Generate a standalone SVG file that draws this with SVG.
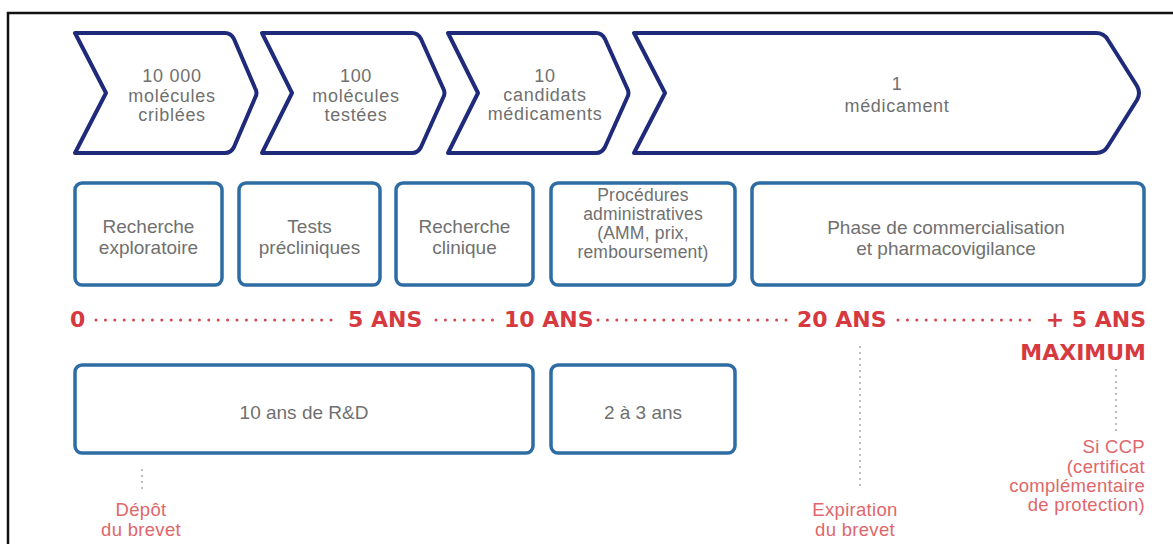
<svg xmlns="http://www.w3.org/2000/svg" width="1173" height="544" viewBox="0 0 1173 544">
  <defs>
    <style>
      .chev { fill: #ffffff; stroke: #1f2b7a; stroke-width: 4; stroke-linejoin: round; }
      .box { fill: #ffffff; stroke: #2e6da4; stroke-width: 3.5; }
      .lbl { font-family: "Liberation Sans", Arial, sans-serif; font-size: 19px; fill: #707070; text-anchor: middle; }
      .chevlbl { font-size: 18px; letter-spacing: 0.7px; }
      .small { font-size: 17.5px; letter-spacing: 0.2px; }
      .tl { font-family: "DejaVu Sans", "Liberation Sans", sans-serif; font-weight: bold; font-size: 22px; fill: #d63a40; }
      .dots { stroke: #d0484e; stroke-width: 3; stroke-linecap: round; stroke-dasharray: 0 9.4; fill: none; }
      .vdots { stroke: #a8a8a8; stroke-width: 2; stroke-linecap: round; stroke-dasharray: 0 6; fill: none; }
      .note { font-family: "Liberation Sans", Arial, sans-serif; font-size: 18.5px; letter-spacing: 0.3px; fill: #e0666a; }
    </style>
  </defs>

  <rect x="0" y="0" width="1173" height="544" fill="#ffffff"/>
  <!-- outer frame (open to the right and bottom) -->
  <rect x="8" y="13" width="1180" height="560" fill="none" stroke="#111111" stroke-width="2.5"/>

  <!-- funnel of candidates -->
  <g id="chevron-10000">
    <path class="chev" d="M 75 33 H 225 Q 231 33 234 39 L 255 88 Q 258 93 255 98 L 234 147 Q 231 153 225 153 H 75 L 106 93 Z"/>
    <text class="lbl chevlbl"><tspan x="172" y="82">10 000</tspan><tspan x="172" y="102">molécules</tspan><tspan x="172" y="121">criblées</tspan></text>
  </g>
  <g id="chevron-100">
    <path class="chev" d="M 262 33 H 412 Q 418 33 421 39 L 443 88 Q 446 93 443 98 L 421 147 Q 418 153 412 153 H 262 L 292 93 Z"/>
    <text class="lbl chevlbl"><tspan x="356" y="82">100</tspan><tspan x="356" y="102">molécules</tspan><tspan x="356" y="121">testées</tspan></text>
  </g>
  <g id="chevron-10">
    <path class="chev" d="M 448 33 H 596 Q 602 33 605 39 L 627 88 Q 630 93 627 98 L 605 147 Q 602 153 596 153 H 448 L 478 93 Z"/>
    <text class="lbl chevlbl"><tspan x="545" y="82">10</tspan><tspan x="545" y="101">candidats</tspan><tspan x="545" y="120">médicaments</tspan></text>
  </g>
  <g id="chevron-1">
    <path class="chev" d="M 634 33 H 1096 Q 1104 33 1108 40 L 1137 86 Q 1141 93 1137 100 L 1108 146 Q 1104 153 1096 153 H 634 L 665 93 Z"/>
    <text class="lbl chevlbl"><tspan x="897" y="90">1</tspan><tspan x="897" y="112">médicament</tspan></text>
  </g>

  <!-- phases -->
  <g id="phase-exploratoire">
    <rect class="box" x="75" y="183" width="147" height="102" rx="7"/>
    <text class="lbl"><tspan x="148.5" y="233">Recherche</tspan><tspan x="148.5" y="254">exploratoire</tspan></text>
  </g>
  <g id="phase-precliniques">
    <rect class="box" x="239" y="183" width="141" height="102" rx="7"/>
    <text class="lbl"><tspan x="309.5" y="233">Tests</tspan><tspan x="309.5" y="254">précliniques</tspan></text>
  </g>
  <g id="phase-clinique">
    <rect class="box" x="396" y="183" width="137" height="102" rx="7"/>
    <text class="lbl"><tspan x="464.5" y="233">Recherche</tspan><tspan x="464.5" y="254">clinique</tspan></text>
  </g>
  <g id="phase-administratives">
    <rect class="box" x="551" y="183" width="184" height="102" rx="7"/>
    <text class="lbl small"><tspan x="643" y="201">Procédures</tspan><tspan x="643" y="220">administratives</tspan><tspan x="643" y="239">(AMM, prix,</tspan><tspan x="643" y="258">remboursement)</tspan></text>
  </g>
  <g id="phase-commercialisation">
    <rect class="box" x="752" y="183" width="392" height="102" rx="7"/>
    <text class="lbl"><tspan x="946" y="234">Phase de commercialisation</tspan><tspan x="946" y="255">et pharmacovigilance</tspan></text>
  </g>

  <!-- timeline -->
  <g id="timeline">
    <text class="tl" x="70" y="327">0</text>
    <text class="tl" x="348" y="327">5 ANS</text>
    <text class="tl" x="504" y="327">10 ANS</text>
    <text class="tl" x="797" y="327">20 ANS</text>
    <text class="tl" x="1146" y="327" text-anchor="end">+ 5 ANS</text>
    <text class="tl" x="1146" y="360" text-anchor="end">MAXIMUM</text>
  </g>

  <!-- durations -->
  <g id="duree-rd">
    <rect class="box" x="75" y="365" width="458" height="88" rx="7"/>
    <text class="lbl" x="304" y="419">10 ans de R&amp;D</text>
  </g>
  <g id="duree-admin">
    <rect class="box" x="551" y="365" width="184" height="88" rx="7"/>
    <text class="lbl" x="643" y="419">2 à 3 ans</text>
  </g>

  <!-- patent milestones -->
  <g id="depot-brevet">
    <text class="note" text-anchor="middle"><tspan x="141" y="516">Dépôt</tspan><tspan x="141" y="536">du brevet</tspan></text>
  </g>
  <g id="expiration-brevet">
    <text class="note" text-anchor="middle"><tspan x="855" y="516">Expiration</tspan><tspan x="855" y="536">du brevet</tspan></text>
  </g>
  <g id="ccp">
    <text class="note" text-anchor="end"><tspan x="1145" y="453">Si CCP</tspan><tspan x="1145" y="473">(certificat</tspan><tspan x="1145" y="492">complémentaire</tspan><tspan x="1145" y="511">de protection)</tspan></text>
  </g>

  <!-- dotted connectors -->
  <g id="connectors">
    <line class="dots" x1="96" y1="320" x2="340" y2="320"/>
    <line class="dots" x1="436" y1="320" x2="500" y2="320"/>
    <line class="dots" x1="598" y1="320" x2="788" y2="320"/>
    <line class="dots" x1="898" y1="320" x2="1030" y2="320"/>
    <line class="vdots" x1="142" y1="470" x2="142" y2="494"/>
    <line class="vdots" x1="860" y1="347" x2="860" y2="491"/>
    <line class="vdots" x1="1116" y1="370" x2="1116" y2="434"/>
  </g>
</svg>
